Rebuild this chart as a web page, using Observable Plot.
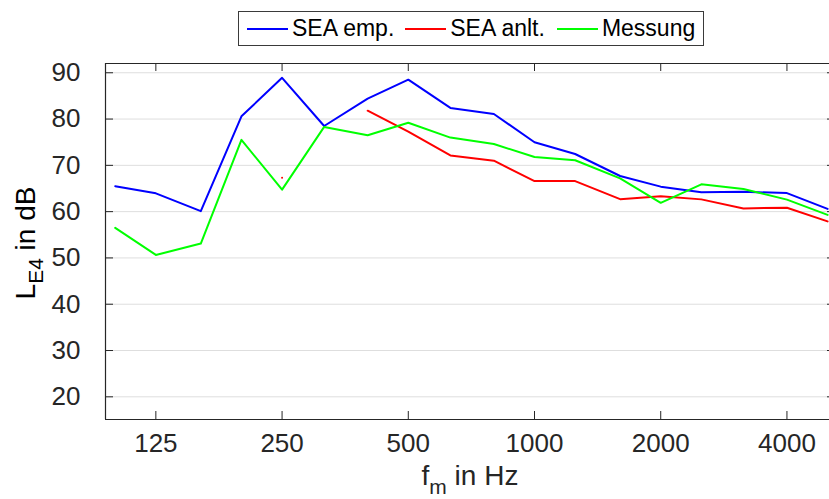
<!DOCTYPE html>
<html>
<head>
<meta charset="utf-8">
<script src="https://cdn.jsdelivr.net/npm/d3@7"></script>
<script src="https://cdn.jsdelivr.net/npm/@observablehq/plot@0.6"></script>
<style>
  html, body { margin: 0; padding: 0; background: #fff; }
  body { width: 829px; height: 499px; overflow: hidden; font-family: "Liberation Sans", Arial, sans-serif; }
  #legendRow { position: relative; height: 52px; }
  #legend { position: absolute; left: 238px; top: 11px; width: 456px; height: 33px; border: 1px solid #3a3a3a;
            display: flex; align-items: center; padding-left: 8px; box-sizing: content-box; background: #fff; }
  .item { display: flex; align-items: center; font-size: 23px; color: #000; white-space: nowrap; }
  .swatch { width: 41px; height: 2px; margin-right: 4px; }
  #chart svg { display: block; }
</style>
</head>
<body>
<div id="legendRow"><div id="legend"></div></div>
<div id="chart"></div>
<script>
// Third-octave band centre frequencies (Hz)
const freqs = [100, 125, 160, 200, 250, 315, 400, 500, 630, 800, 1000, 1250, 1600, 2000, 2500, 3150, 4000, 5000];
// Series values (dB)
const seaEmp  = [65.5, 63.95, 60.1, 80.6, 88.9, 78.5, 84.4, 88.5, 82.4, 81.1, 75.0, 72.45, 67.7, 65.4, 64.2, 64.3, 64.0, 60.6];
const seaAnlt = [null, null, null, null, 67.3, null, 81.8, 77.3, 72.15, 71.0, 66.6, 66.6, 62.7, 63.3, 62.65, 60.7, 60.85, 57.9];
const messung = [56.5, 50.65, 53.1, 75.5, 64.75, 78.3, 76.5, 79.2, 76.0, 74.6, 71.8, 71.1, 67.2, 61.9, 65.9, 64.9, 62.6, 59.3];
// Series names and colours
const seriesNames = ["SEA emp.", "SEA anlt.", "Messung"];
const seriesColors = ["#0000ff", "#ff0000", "#00ff00"];
// Axis ticks and domains
const xTicks = [125, 250, 500, 1000, 2000, 4000];
const yTicks = [20, 30, 40, 50, 60, 70, 80, 90];
const xDomain = [94.8, 5053];
const yDomain = [15.1, 92];

const seriesValues = [seaEmp, seaAnlt, messung];
const rows = [];
seriesNames.forEach((name, s) => {
  freqs.forEach((f, i) => rows.push({series: name, f, v: seriesValues[s][i]}));
});

// Legend
const legend = document.getElementById("legend");
const gaps = [11, 12, 0];
seriesNames.forEach((name, i) => {
  const it = document.createElement("div");
  it.className = "item";
  it.style.marginRight = gaps[i] + "px";
  const sw = document.createElement("span");
  sw.className = "swatch";
  sw.style.background = seriesColors[i];
  const tx = document.createElement("span");
  tx.textContent = name;
  it.appendChild(sw); it.appendChild(tx);
  legend.appendChild(it);
});

const W = 829, H = 447, mT = 11, mB = 80, mL = 105, mR = 0;
const pw = W - mL - mR, ph = H - mT - mB;
const axisColor = "#262626";

const plot = Plot.plot({
  width: W, height: H,
  marginTop: mT, marginBottom: mB, marginLeft: mL, marginRight: mR,
  style: {fontFamily: '"Liberation Sans", Arial, sans-serif', color: axisColor, background: "#fff", overflow: "visible"},
  x: {type: "log", domain: xDomain},
  y: {domain: yDomain},
  color: {domain: seriesNames, range: seriesColors},
  marks: [
    Plot.ruleY(yTicks, {y: d => d, stroke: "#dedede", strokeWidth: 1}),
    Plot.line(rows, {x: "f", y: "v", z: "series", stroke: "series", strokeWidth: 2, defined: d => d.v != null}),
    // frame lines (top, bottom, left)
    Plot.ruleY([yDomain[1]], {stroke: axisColor, strokeWidth: 1.2}),
    Plot.ruleY([yDomain[0]], {stroke: axisColor, strokeWidth: 1.2}),
    Plot.ruleX([xDomain[0]], {stroke: axisColor, strokeWidth: 1.2}),
    // inward ticks
    Plot.tickY(yTicks, {y: d => d, stroke: axisColor, insetRight: pw - 8}),
    Plot.tickY(yTicks, {y: d => d, stroke: axisColor, insetLeft: pw - 2}),
    Plot.tickX(xTicks, {x: d => d, stroke: axisColor, insetTop: ph - 8}),
    Plot.tickX(xTicks, {x: d => d, stroke: axisColor, insetBottom: ph - 8}),
    Plot.axisY({ticks: yTicks, tickSize: 0, tickPadding: 25, fontSize: 26, label: null}),
    Plot.axisX({ticks: xTicks, tickFormat: d => String(d), tickSize: 0, tickPadding: 14, fontSize: 26, label: null})
  ]
});
document.getElementById("chart").appendChild(plot);

// Axis labels with subscripts
const svg = d3.select(plot);
const xl = svg.append("text")
  .attr("x", mL + pw / 2 + 3).attr("y", 433)
  .attr("text-anchor", "middle")
  .attr("fill", axisColor)
  .style("font-size", "28px");
xl.append("tspan").text("f");
xl.append("tspan").attr("dy", 9).style("font-size", "21px").text("m");
xl.append("tspan").attr("dy", -9).text(" in Hz");

const yl = svg.append("text")
  .attr("transform", `translate(35,${mT + ph / 2 + 2}) rotate(-90)`)
  .attr("text-anchor", "middle")
  .attr("fill", "#000")
  .style("font-size", "28px");
yl.append("tspan").text("L");
yl.append("tspan").attr("dy", 8).style("font-size", "21px").text("E4");
yl.append("tspan").attr("dy", -8).text(" in dB");
</script>
</body>
</html>
